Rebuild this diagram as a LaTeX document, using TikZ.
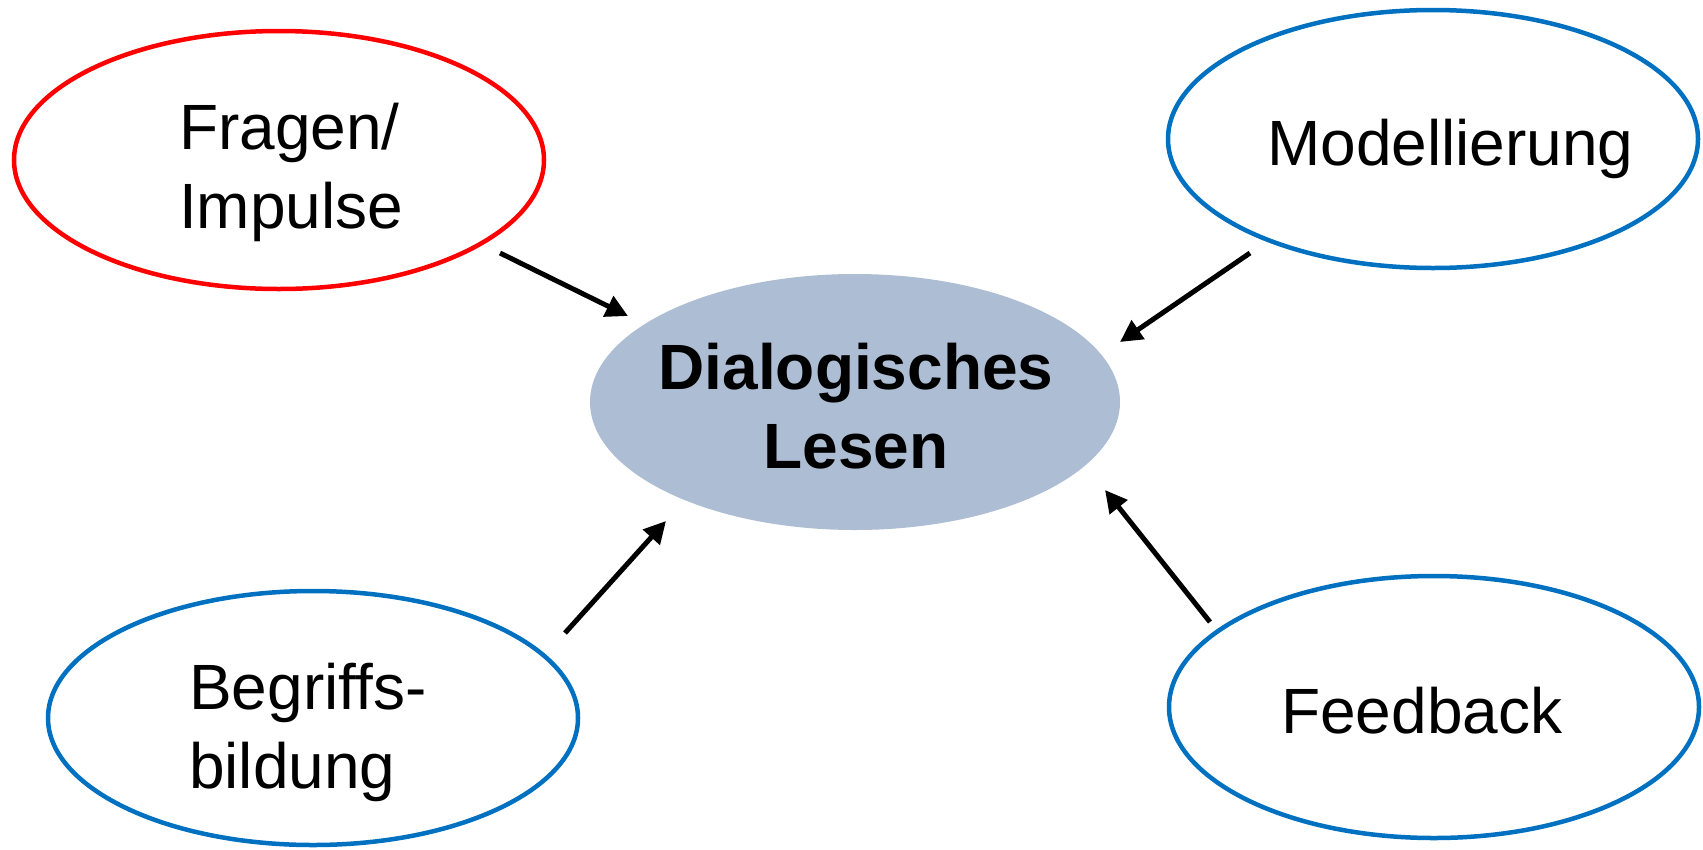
\documentclass[tikz,border=0pt]{standalone}
\usepackage{fontspec}
\setmainfont{Liberation Sans}
\usetikzlibrary{shapes.geometric,arrows.meta}
\definecolor{ered}{RGB}{255,0,0}
\definecolor{eblue}{RGB}{0,112,192}
\definecolor{cfill}{RGB}{173,189,211}
\begin{document}
\begin{tikzpicture}[x=1pt,y=-1pt,
  oval/.style={ellipse,draw,line width=4.5pt,inner sep=0pt,minimum width=530pt,minimum height=258pt},
  lbl/.style={anchor=base west,inner sep=0pt,font=\fontsize{64}{79}\selectfont},
  blbl/.style={anchor=base,inner sep=0pt,font=\fontsize{64}{79}\selectfont\bfseries},
  arr/.style={line width=5pt,-{Triangle[length=22pt,width=22pt]}}]
\useasboundingbox (0,0) rectangle (1703,849);
\node[oval,draw=ered] (fr) at (279,160) {};
\node[oval,draw=eblue] (mo) at (1433,139) {};
\node[oval,draw=eblue,minimum height=254pt] (be) at (313,718) {};
\node[oval,draw=eblue,minimum height=262pt] (fe) at (1434,707) {};
\node[ellipse,fill=cfill,inner sep=0pt,minimum width=530pt,minimum height=256pt] (dl) at (855,402) {};
\node[lbl] (fr1) at (179,149) {Fragen/};
\node[lbl] (fr2) at (179,228) {Impulse};
\node[lbl] (mo1) at (1267,165) {Modellierung};
\node[lbl] (be1) at (189,709) {Begriffs-};
\node[lbl] (be2) at (189,788) {bildung};
\node[lbl] (fe1) at (1281,733) {Feedback};
\node[blbl] (dl1) at (856,389) {Dialogisches};
\node[blbl] (dl2) at (856,468) {Lesen};
\coordinate (a1s) at (500,253); \coordinate (a1e) at (628,316);
\coordinate (a2s) at (1250,253); \coordinate (a2e) at (1120,342);
\coordinate (a3s) at (565,633); \coordinate (a3e) at (666,521);
\coordinate (a4s) at (1210,622); \coordinate (a4e) at (1105,490);
\draw[arr] (a1s) -- (a1e);
\draw[arr] (a2s) -- (a2e);
\draw[arr] (a3s) -- (a3e);
\draw[arr] (a4s) -- (a4e);
\end{tikzpicture}
\end{document}
